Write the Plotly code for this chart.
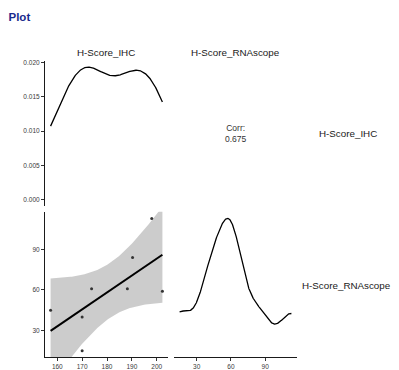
import numpy as np
import plotly.graph_objects as go

# ---- data ----
ihc = [157.3, 170.0, 170.0, 173.8, 188.2, 190.3, 198.0, 202.3]
rnascope = [45, 40, 15, 61, 61, 84, 113, 59]
var_names = ["H-Score_IHC", "H-Score_RNAscope"]
corr_label = "0.675"
density_ticks = [0.000, 0.005, 0.010, 0.015, 0.020]
ihc_ticks = [160, 170, 180, 190, 200]
rna_ticks = [30, 60, 90]

W, H = 399, 370
FONT = "Liberation Sans, Arial, sans-serif"


def kde(v, n=512):
    v = np.asarray(v, float)
    sd = v.std(ddof=1)
    q75, q25 = np.percentile(v, [75, 25])
    h = 0.9 * min(sd, (q75 - q25) / 1.34) * len(v) ** -0.2
    g = np.linspace(v.min(), v.max(), n)
    d = np.exp(-0.5 * ((g[:, None] - v[None, :]) / h) ** 2).sum(1) / (len(v) * h * np.sqrt(2 * np.pi))
    return g, d


def expand(lo, hi, f=0.05):
    s = hi - lo
    return [lo - f * s, hi + f * s]


x = np.asarray(ihc, float)
y = np.asarray(rnascope, float)
n = len(x)
slope, intercept = np.polyfit(x, y, 1)
xs = np.linspace(x.min(), x.max(), 80)
fit = intercept + slope * xs
resid = y - (intercept + slope * x)
s = np.sqrt((resid ** 2).sum() / (n - 2))
sxx = ((x - x.mean()) ** 2).sum()
se = s * np.sqrt(1 / n + (xs - x.mean()) ** 2 / sxx)
tq = 2.446912  # t(0.975, df=6)
upper = fit + tq * se
lower = fit - tq * se

g1, d1 = kde(ihc)
g2, d2 = kde(rnascope)


def px_x(p):
    return p / W


def px_y(p):
    return 1 - p / H


colL = [px_x(45), px_x(168)]
colR = [px_x(174), px_x(297)]
rowT = [px_y(206), px_y(59)]
rowB = [px_y(358.3), px_y(211.5)]

fig = go.Figure()

# top-left density
fig.add_trace(go.Scatter(x=g1, y=d1, mode="lines", line=dict(color="black", width=1.3),
                         xaxis="x", yaxis="y", showlegend=False, hoverinfo="skip"))
# bottom-left: CI ribbon, fit, points
fig.add_trace(go.Scatter(x=np.concatenate([xs, xs[::-1]]), y=np.concatenate([upper, lower[::-1]]),
                         mode="lines", line=dict(width=0), fill="toself",
                         fillcolor="rgba(153,153,153,0.5)", xaxis="x3", yaxis="y3",
                         showlegend=False, hoverinfo="skip"))
fig.add_trace(go.Scatter(x=xs, y=fit, mode="lines", line=dict(color="black", width=2),
                         xaxis="x3", yaxis="y3", showlegend=False, hoverinfo="skip"))
fig.add_trace(go.Scatter(x=ihc, y=rnascope, mode="markers",
                         marker=dict(color="#333333", size=3), cliponaxis=False,
                         xaxis="x3", yaxis="y3", showlegend=False))
# bottom-right density
fig.add_trace(go.Scatter(x=g2, y=d2, mode="lines", line=dict(color="black", width=1.3),
                         xaxis="x4", yaxis="y4", showlegend=False, hoverinfo="skip"))

tickfont = dict(family=FONT, size=6.5, color="#3a3a3a")
hidden = dict(visible=False, showgrid=False, zeroline=False)
axis_common = dict(showgrid=False, zeroline=False, showline=True, linecolor="#1a1a1a",
                   linewidth=1.1, ticks="outside", ticklen=3, tickwidth=1,
                   tickcolor="#333333", tickfont=tickfont)

fig.update_layout(
    width=W, height=H, autosize=False,
    margin=dict(l=0, r=0, t=0, b=0),
    paper_bgcolor="white", plot_bgcolor="white",
    title=dict(text="<b>Plot</b>", x=px_x(8.5), y=px_y(15.5), xref="paper", yref="paper",
               xanchor="left", yanchor="middle",
               font=dict(family=FONT, size=11.5, color="#1a2a8c")),
    xaxis=dict(domain=colL, range=expand(min(ihc), max(ihc)), anchor="y", **hidden),
    yaxis=dict(domain=rowT, range=expand(0, float(d1.max())), anchor="x",
               tickvals=density_ticks, ticktext=[f"{v:.3f}" for v in density_ticks],
               **axis_common),
    xaxis2=dict(domain=colR, range=[0, 1], anchor="y2", **hidden),
    yaxis2=dict(domain=rowT, range=[0, 1], anchor="x2", **hidden),
    xaxis3=dict(domain=colL, range=expand(min(ihc), max(ihc)), anchor="y3",
                tickvals=ihc_ticks, **axis_common),
    yaxis3=dict(domain=rowB, range=expand(min(rnascope), max(rnascope)), anchor="x3",
                tickvals=rna_ticks, **axis_common),
    xaxis4=dict(domain=colR, range=expand(min(rnascope), max(rnascope)), anchor="y4",
                tickvals=rna_ticks, **axis_common),
    yaxis4=dict(domain=rowB, range=expand(0, float(d2.max())), anchor="x4", **hidden),
)

strip_font = dict(family=FONT, size=9.8, color="#1a1a1a")
ann = []
ann.append(dict(text=var_names[0], x=(colL[0] + colL[1]) / 2, y=px_y(51), xref="paper", yref="paper",
                showarrow=False, font=strip_font, xanchor="center", yanchor="middle"))
ann.append(dict(text=var_names[1], x=(colR[0] + colR[1]) / 2, y=px_y(51), xref="paper", yref="paper",
                showarrow=False, font=strip_font, xanchor="center", yanchor="middle"))
ann.append(dict(text=var_names[0], x=px_x(348), y=px_y(133), xref="paper", yref="paper",
                showarrow=False, font=strip_font, xanchor="center", yanchor="middle"))
ann.append(dict(text=var_names[1], x=px_x(346.5), y=px_y(286), xref="paper", yref="paper",
                showarrow=False, font=strip_font, xanchor="center", yanchor="middle"))
ann.append(dict(text="Corr:<br>" + corr_label, x=0.5, y=0.5, xref="x2", yref="y2",
                showarrow=False, font=dict(family=FONT, size=8.5, color="#333333"),
                xanchor="center", yanchor="middle"))
fig.update_layout(annotations=ann)

fig.write_html("out.html", config={"displayModeBar": False},
               post_script="document.body.style.margin='0';document.body.style.padding='0';")
